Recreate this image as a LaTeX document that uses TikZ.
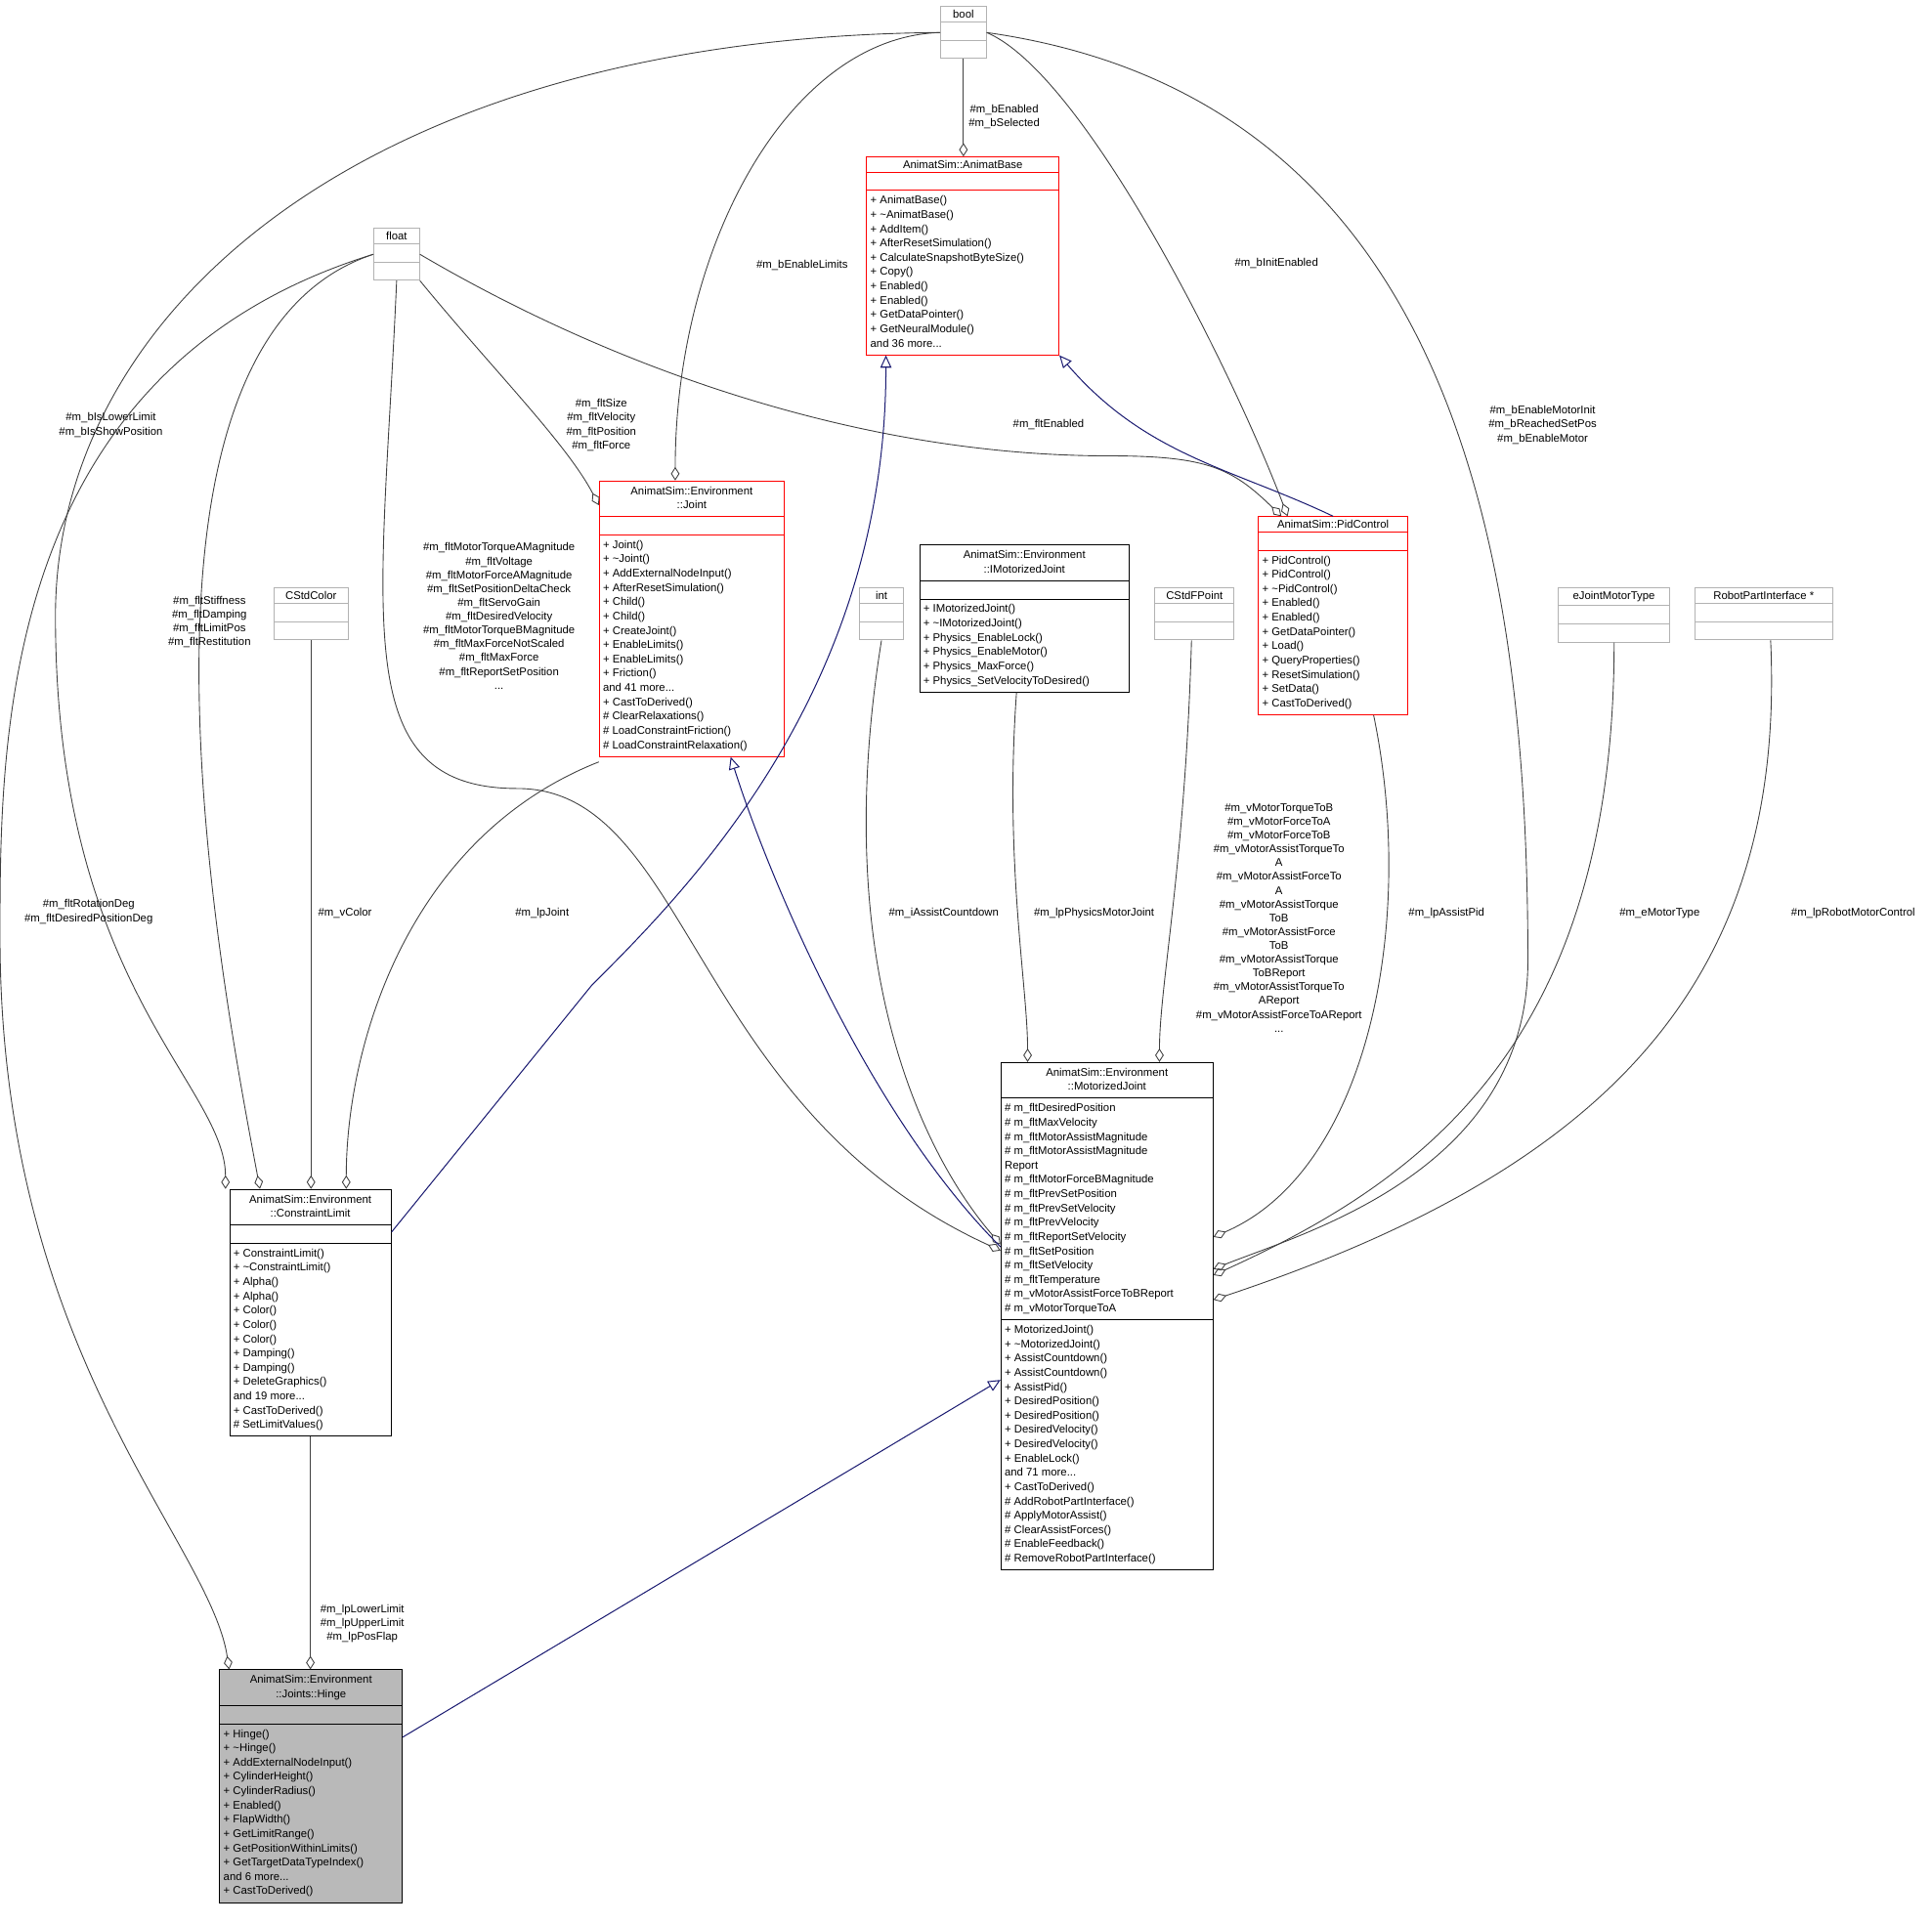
\documentclass[tikz,border=0pt]{standalone}
\usepackage{fontspec}
\setmainfont{Liberation Sans}
\usetikzlibrary{positioning,shapes.multipart,arrows.meta}
\definecolor{edgegray}{RGB}{64,64,64}
\definecolor{inhblue}{RGB}{25,25,112}
\newcommand{\ctr}[1]{\begin{tabular}{@{}c@{}}#1\end{tabular}}
\newcommand{\lft}[1]{\begin{tabular}{@{}l@{}}#1\end{tabular}}
\tikzset{
  umlclass/.style={rectangle split, rectangle split parts=3, draw, anchor=north west,
    inner xsep=3pt, inner ysep=2.5pt, font=\fontsize{9}{11.6}\selectfont,
    rectangle split part align={center,left,left},
    rectangle split empty part height=9pt, line width=0.8pt},
  extclass/.style={umlclass, draw=gray!60},
  redclass/.style={umlclass, draw=red},
  hinge/.style={umlclass, fill=gray!55},
  member/.style={draw=edgegray, line width=0.7pt, -{Diamond[open,length=11pt,width=7pt]}},
  inherit/.style={draw=inhblue, line width=0.8pt, -{Triangle[open,length=10pt,width=9pt]}},
  lbl/.style={font=\fontsize{9}{11.2}\selectfont, align=center, inner sep=0pt}
}
\begin{document}
\begin{tikzpicture}[x=1pt,y=-1pt]
\useasboundingbox (0,0) rectangle (1568,1561);
% classes
\node[extclass, minimum width=37pt] (bool) at (763,5) {bool\nodepart{two}\nodepart{three}};
\node[extclass, minimum width=37pt] (float) at (303,185) {float\nodepart{two}\nodepart{three}};
\node[redclass, minimum width=156pt] (base) at (703,127) {AnimatSim::AnimatBase
  \nodepart{two}
  \nodepart{three}\lft{+ AnimatBase()\\+ \textasciitilde AnimatBase()\\+ AddItem()\\+ AfterResetSimulation()\\+ CalculateSnapshotByteSize()\\+ Copy()\\+ Enabled()\\+ Enabled()\\+ GetDataPointer()\\+ GetNeuralModule()\\and 36 more...}};
\node[redclass, minimum width=150pt] (joint) at (486,390) {\ctr{AnimatSim::Environment\\::Joint}
  \nodepart{two}
  \nodepart{three}\lft{+ Joint()\\+ \textasciitilde Joint()\\+ AddExternalNodeInput()\\+ AfterResetSimulation()\\+ Child()\\+ Child()\\+ CreateJoint()\\+ EnableLimits()\\+ EnableLimits()\\+ Friction()\\and 41 more...\\+ CastToDerived()\\\# ClearRelaxations()\\\# LoadConstraintFriction()\\\# LoadConstraintRelaxation()}};
\node[redclass, minimum width=121pt] (pid) at (1021,419) {AnimatSim::PidControl
  \nodepart{two}
  \nodepart{three}\lft{+ PidControl()\\+ PidControl()\\+ \textasciitilde PidControl()\\+ Enabled()\\+ Enabled()\\+ GetDataPointer()\\+ Load()\\+ QueryProperties()\\+ ResetSimulation()\\+ SetData()\\+ CastToDerived()}};
\node[extclass, minimum width=60pt] (color) at (222,477) {CStdColor\nodepart{two}\nodepart{three}};
\node[extclass, minimum width=36pt] (int) at (697,477) {int\nodepart{two}\nodepart{three}};
\node[umlclass, minimum width=170pt] (imotor) at (746,442) {\ctr{AnimatSim::Environment\\::IMotorizedJoint}
  \nodepart{two}
  \nodepart{three}\lft{+ IMotorizedJoint()\\+ \textasciitilde IMotorizedJoint()\\+ Physics\_EnableLock()\\+ Physics\_EnableMotor()\\+ Physics\_MaxForce()\\+ Physics\_SetVelocityToDesired()}};
\node[extclass, minimum width=64pt] (fpoint) at (937,477) {CStdFPoint\nodepart{two}\nodepart{three}};
\node[extclass, minimum width=91pt] (mtype) at (1264,477) {eJointMotorType\nodepart{two}\nodepart{three}};
\node[extclass, minimum width=112pt] (robot) at (1375,477) {RobotPartInterface *\nodepart{two}\nodepart{three}};
\node[umlclass, minimum width=131pt] (climit) at (186,965) {\ctr{AnimatSim::Environment\\::ConstraintLimit}
  \nodepart{two}
  \nodepart{three}\lft{+ ConstraintLimit()\\+ \textasciitilde ConstraintLimit()\\+ Alpha()\\+ Alpha()\\+ Color()\\+ Color()\\+ Color()\\+ Damping()\\+ Damping()\\+ DeleteGraphics()\\and 19 more...\\+ CastToDerived()\\\# SetLimitValues()}};
\node[umlclass, minimum width=172pt] (mjoint) at (812,862) {\ctr{AnimatSim::Environment\\::MotorizedJoint}
  \nodepart{two}\lft{\# m\_fltDesiredPosition\\\# m\_fltMaxVelocity\\\# m\_fltMotorAssistMagnitude\\\# m\_fltMotorAssistMagnitude\\Report\\\# m\_fltMotorForceBMagnitude\\\# m\_fltPrevSetPosition\\\# m\_fltPrevSetVelocity\\\# m\_fltPrevVelocity\\\# m\_fltReportSetVelocity\\\# m\_fltSetPosition\\\# m\_fltSetVelocity\\\# m\_fltTemperature\\\# m\_vMotorAssistForceToBReport\\\# m\_vMotorTorqueToA}
  \nodepart{three}\lft{+ MotorizedJoint()\\+ \textasciitilde MotorizedJoint()\\+ AssistCountdown()\\+ AssistCountdown()\\+ AssistPid()\\+ DesiredPosition()\\+ DesiredPosition()\\+ DesiredVelocity()\\+ DesiredVelocity()\\+ EnableLock()\\and 71 more...\\+ CastToDerived()\\\# AddRobotPartInterface()\\\# ApplyMotorAssist()\\\# ClearAssistForces()\\\# EnableFeedback()\\\# RemoveRobotPartInterface()}};
\node[hinge, minimum width=148pt] (hinge) at (178,1355) {\ctr{AnimatSim::Environment\\::Joints::Hinge}
  \nodepart{two}
  \nodepart{three}\lft{+ Hinge()\\+ \textasciitilde Hinge()\\+ AddExternalNodeInput()\\+ CylinderHeight()\\+ CylinderRadius()\\+ Enabled()\\+ FlapWidth()\\+ GetLimitRange()\\+ GetPositionWithinLimits()\\+ GetTargetDataTypeIndex()\\and 6 more...\\+ CastToDerived()}};
% members from bool
\draw[member] (bool.south) -- (bool.south |- base.north);
\node[lbl] at (815,95) {\#m\_bEnabled\\\#m\_bSelected};
\draw[member] (bool.west) .. controls (640,30) and (548,200) .. (joint.north -| 548,0);
\node[lbl] at (651,215) {\#m\_bEnableLimits};
\draw[member] (bool.east) .. controls (880,60) and (1000,300) .. ([xshift=24pt]pid.north west);
\node[lbl] at (1036,214) {\#m\_bInitEnabled};
\draw[member] (bool.east) .. controls (1180,80) and (1240,450) .. (1240,780) .. controls (1240,950) and (1060,1000) .. ([yshift=-168pt]mjoint.north east);
\node[lbl] at (1252,345) {\#m\_bEnableMotorInit\\\#m\_bReachedSetPos\\\#m\_bEnableMotor};
\draw[member] (bool.west) .. controls (300,30) and (45,250) .. (45,500) .. controls (45,800) and (183,880) .. ([xshift=-3pt]climit.north west);
\node[lbl] at (90,345) {\#m\_bIsLowerLimit\\\#m\_bIsShowPosition};
% members from float
\draw[member] (float.south east) .. controls (400,300) and (460,360) .. ([yshift=-20pt]joint.north west);
\node[lbl] at (488,345) {\#m\_fltSize\\\#m\_fltVelocity\\\#m\_fltPosition\\\#m\_fltForce};
\draw[member] (float.east) .. controls (500,300) and (700,370) .. (900,370) .. controls (980,370) and (1000,380) .. ([xshift=19pt]pid.north west);
\node[lbl] at (851,345) {\#m\_fltEnabled};
\draw[member] (float.west) .. controls (80,280) and (180,800) .. ([xshift=25pt]climit.north west);
\node[lbl] at (170,505) {\#m\_fltStiffness\\\#m\_fltDamping\\\#m\_fltLimitPos\\\#m\_fltRestitution};
\draw[member] (float.west) .. controls (0,300) and (0,600) .. (0,760) .. controls (0,1100) and (170,1250) .. ([xshift=8pt]hinge.north west);
\node[lbl] at (72,740) {\#m\_fltRotationDeg\\\#m\_fltDesiredPositionDeg};
\draw[member] (float.south) .. controls (310,500) and (280,640) .. (420,640) .. controls (560,640) and (560,900) .. ([yshift=-153pt]mjoint.north west);
\node[lbl] at (405,500) {\#m\_fltMotorTorqueAMagnitude\\\#m\_fltVoltage\\\#m\_fltMotorForceAMagnitude\\\#m\_fltSetPositionDeltaCheck\\\#m\_fltServoGain\\\#m\_fltDesiredVelocity\\\#m\_fltMotorTorqueBMagnitude\\\#m\_fltMaxForceNotScaled\\\#m\_fltMaxForce\\\#m\_fltReportSetPosition\\...};
% other members
\draw[member] (color.south) -- (color.south |- climit.north);
\node[lbl] at (280,741) {\#m\_vColor};
\draw[member] ([yshift=-4pt]joint.south west) .. controls (330,680) and (281,850) .. ([xshift=95pt]climit.north west);
\node[lbl] at (440,741) {\#m\_lpJoint};
\draw[member] (int.south) .. controls (670,800) and (760,950) .. ([yshift=-148pt]mjoint.north west);
\node[lbl] at (766,741) {\#m\_iAssistCountdown};
\draw[member] (imotor.south -| 825,0) .. controls (815,700) and (834,800) .. (mjoint.north -| 834,0);
\node[lbl] at (888,741) {\#m\_lpPhysicsMotorJoint};
\draw[member] (fpoint.south -| 967,0) .. controls (962,700) and (941,800) .. (mjoint.north -| 941,0);
\node[lbl] at (1038,745) {\#m\_vMotorTorqueToB\\\#m\_vMotorForceToA\\\#m\_vMotorForceToB\\\#m\_vMotorAssistTorqueTo\\A\\\#m\_vMotorAssistForceTo\\A\\\#m\_vMotorAssistTorque\\ToB\\\#m\_vMotorAssistForce\\ToB\\\#m\_vMotorAssistTorque\\ToBReport\\\#m\_vMotorAssistTorqueTo\\AReport\\\#m\_vMotorAssistForceToAReport\\...};
\draw[member] ([xshift=-28pt]pid.south east) .. controls (1150,750) and (1110,950) .. ([yshift=-142pt]mjoint.north east);
\node[lbl] at (1174,741) {\#m\_lpAssistPid};
\draw[member] (mtype.south -| 1310,0) .. controls (1310,850) and (1150,960) .. ([yshift=-173pt]mjoint.north east);
\node[lbl] at (1347,741) {\#m\_eMotorType};
\draw[member] (robot.south -| 1437,0) .. controls (1450,800) and (1300,950) .. ([yshift=-193pt]mjoint.north east);
\node[lbl] at (1504,741) {\#m\_lpRobotMotorControl};
\draw[member] (climit.south) -- (climit.south |- hinge.north);
\node[lbl] at (294,1318) {\#m\_lpLowerLimit\\\#m\_lpUpperLimit\\\#m\_lpPosFlap};
% inheritance
\draw[inherit] (pid.north) .. controls (1000,380) and (930,370) .. (base.south east);
\draw[inherit] ([yshift=-35pt]climit.north east) -- (480,800) .. controls (560,720) and (719,560) .. ([xshift=16pt]base.south west);
\draw[inherit] ([yshift=-150pt]mjoint.north west) .. controls (700,900) and (620,700) .. ([xshift=107pt]joint.south west);
\draw[inherit] ([yshift=-55pt]hinge.north east) -- ([yshift=-258pt]mjoint.north west);
\end{tikzpicture}
\end{document}
